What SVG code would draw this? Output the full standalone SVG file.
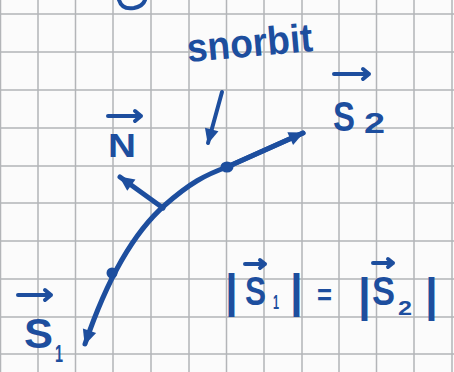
<svg xmlns="http://www.w3.org/2000/svg" width="454" height="372" viewBox="0 0 454 372">
<style>
.grid{stroke:#b3b5b8;stroke-width:1.5;fill:none}
.ink{fill:#1d4e9e;font-family:"Liberation Sans","DejaVu Sans",sans-serif;font-weight:bold}
.line{stroke:#1d4e9e;stroke-width:5;fill:none;stroke-linecap:round;stroke-linejoin:round}
.thin{stroke:#1d4e9e;stroke-width:4;fill:none;stroke-linecap:round;stroke-linejoin:round}
.dot{fill:#1d4e9e}
</style>
<defs>
<marker id="head" markerUnits="userSpaceOnUse" markerWidth="20" markerHeight="20" viewBox="-10 -8 20 16" refX="6" refY="0" orient="auto">
<path d="M-8 -7 L7 0 L-8 7 Z" fill="#1d4e9e"/>
</marker>
</defs>
<rect width="454" height="372" fill="#fbfbfb"/>
<g id="grid" class="grid">
<path d="M0.5 0V372M38 0V372M75.5 0V372M113 0V372M151 0V372M189 0V372M226.5 0V372M264 0V372M302 0V372M339 0V372M376.5 0V372M414 0V372M452 0V372"/>
<path d="M0 14H454M0 52H454M0 90H454M0 128H454M0 166H454M0 203H454M0 241H454M0 279H454M0 317H454M0 354H454"/>
</g>
<path d="M119 0 Q122 10 134 8 Q143 6 145 0" stroke="#1d4e9e" stroke-width="4" fill="none" stroke-linecap="round"/>
<g id="connectors">
<path class="line" d="M303 133 L227 167 C205 175 190 183 165 205 C125 240 100 300 85 344" marker-end="url(#head)"/>
<path class="line" d="M227 167 L303 133" marker-end="url(#head)"/>
<path class="line" d="M163 208 L120 177" marker-end="url(#head)"/>
<path class="thin" d="M222 92 L208 143" marker-end="url(#head)"/>
<ellipse class="dot" cx="112" cy="273" rx="5.5" ry="5.5"/>
<ellipse class="dot" cx="227" cy="167" rx="6.5" ry="5.5"/>
</g>
<g id="snorbit">
<text class="ink" x="188" y="62" font-size="40" textLength="126" lengthAdjust="spacingAndGlyphs" transform="rotate(-5 188 62)">snorbit</text>
</g>
<g id="S2">
<path class="thin" d="M334 74 H369 M363 69 L369 74 L363 79"/>
<text class="ink" x="333" y="131" font-size="42" textLength="22" lengthAdjust="spacingAndGlyphs">S</text>
<text class="ink" x="364" y="133" font-size="30" textLength="21" lengthAdjust="spacingAndGlyphs">2</text>
</g>
<g id="N">
<path class="thin" d="M108 116 H141 M135 111 L141 116 L135 121"/>
<text class="ink" x="108" y="157" font-size="34" textLength="28" lengthAdjust="spacingAndGlyphs">N</text>
</g>
<g id="S1">
<path class="thin" d="M18 295 H51 M45 290 L51 295 L45 300"/>
<text class="ink" x="24" y="348" font-size="42" textLength="29" lengthAdjust="spacingAndGlyphs">S</text>
<text class="ink" x="55" y="362" font-size="24" textLength="8" lengthAdjust="spacingAndGlyphs">1</text>
</g>
<g id="equation">
<text class="ink" x="225" y="307" font-size="46">|</text>
<path class="thin" d="M245 264 H265 M260 260 L265 264 L260 268"/>
<text class="ink" x="245" y="305" font-size="40" textLength="21" lengthAdjust="spacingAndGlyphs">S</text>
<text class="ink" x="273" y="309" font-size="20" textLength="6" lengthAdjust="spacingAndGlyphs">1</text>
<text class="ink" x="290" y="307" font-size="46">|</text>
<text class="ink" x="317" y="305" font-size="30" textLength="15" lengthAdjust="spacingAndGlyphs">=</text>
<text class="ink" x="358" y="311" font-size="46">|</text>
<path class="thin" d="M373 263 H393 M388 259 L393 263 L388 267"/>
<text class="ink" x="372" y="305" font-size="40" textLength="23" lengthAdjust="spacingAndGlyphs">S</text>
<text class="ink" x="398" y="315" font-size="20" textLength="14" lengthAdjust="spacingAndGlyphs">2</text>
<text class="ink" x="425" y="311" font-size="46">|</text>
</g>
</svg>
